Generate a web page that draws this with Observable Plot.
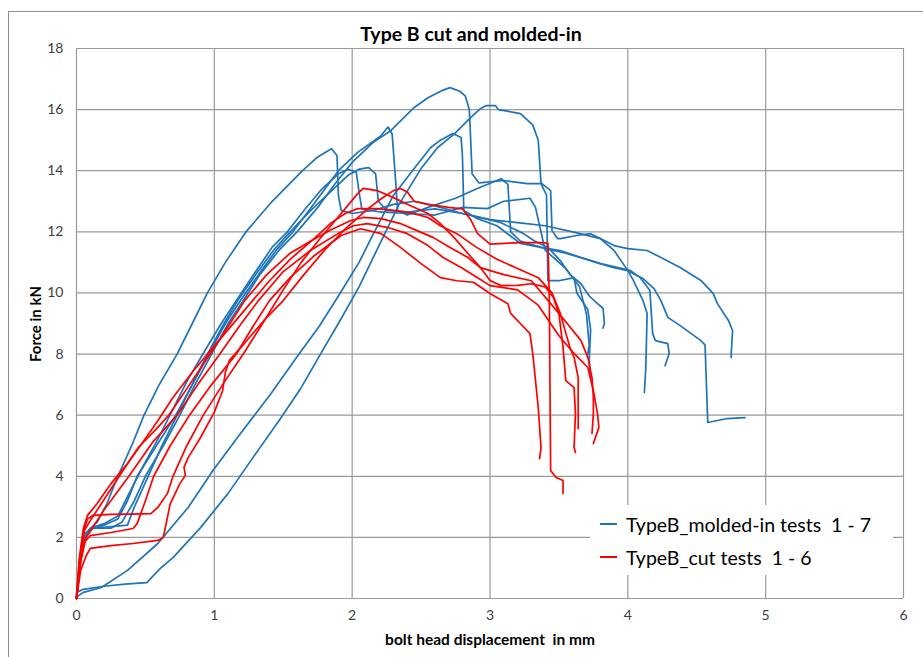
<!DOCTYPE html>
<html>
<head>
<meta charset="utf-8">
<script src="https://cdn.jsdelivr.net/npm/d3@7"></script>
<script src="https://cdn.jsdelivr.net/npm/@observablehq/plot@0.6"></script>
<style>
html,body{margin:0;padding:0;background:#fff;overflow:hidden}
#wrap{position:relative;width:923px;height:657px;font-family:Lato,"Open Sans",sans-serif;overflow:hidden}
#frame{position:absolute;left:8px;top:11px;width:1000px;height:1000px;border:1px solid #8c8c8c;box-sizing:border-box}
#chart{position:absolute;left:0;top:0}
#title{position:absolute;left:471px;top:22px;transform:translateX(-50%);font-size:19.5px;font-weight:bold;line-height:24px;color:#000;white-space:nowrap}
#xtitle{position:absolute;left:490px;top:630px;transform:translateX(-50%);font-size:15.5px;font-weight:bold;line-height:18px;color:#000;white-space:pre}
#ytitle{position:absolute;left:35px;top:324px;transform:translate(-50%,-50%) rotate(-90deg);font-size:15px;font-weight:bold;line-height:18px;color:#000;white-space:nowrap}
#legend{position:absolute;left:590px;top:505px;width:303px;height:70px;background:#fff}
.li{position:absolute;left:10px;height:24px;display:flex;align-items:center;font-size:19.5px;color:#000;white-space:pre}
.sw{display:inline-block;width:17px;height:2px;margin-right:9px}
</style>
</head>
<body>
<div id="wrap">
  <div id="frame"></div>
  <div id="chart"></div>
  <div id="title">Type B cut and molded-in</div>
  <div id="ytitle">Force in kN</div>
  <div id="xtitle">bolt head displacement  in mm</div>
  <div id="legend"></div>
</div>
<script>
const xTicks = [0, 1, 2, 3, 4, 5, 6];
const yTicks = [0, 2, 4, 6, 8, 10, 12, 14, 16, 18];
const seriesNames = ["TypeB_molded-in tests  1 - 7", "TypeB_cut tests  1 - 6"];
const seriesColors = ["#1f74b9", "#ff0000"];

// molded-in tests (displacement mm, force kN)
const molded1 = [[0,0],[0.02,0.9],[0.05,1.8],[0.09,2.25],[0.15,2.5],[0.22,3.1],[0.3,4.0],[0.4,5.0],[0.49,6.0],[0.6,7.0],[0.73,8.0],[0.84,9.0],[0.95,10.0],[1.08,11.0],[1.23,12.0],[1.42,13.0],[1.64,14.0],[1.75,14.45],[1.85,14.72],[1.89,14.5],[1.9,13.2],[1.92,12.7],[2.0,12.6],[2.15,12.7],[2.3,12.9],[2.45,13.0],[2.6,12.85],[2.8,12.6],[3.0,12.4],[3.2,12.3],[3.4,12.2],[3.6,12.0],[3.8,11.78],[3.9,11.39],[4.0,10.73],[4.04,10.41],[4.11,9.75],[4.14,9.33],[4.13,7.5],[4.12,6.74]];
const molded2 = [[0,0],[0.02,1.0],[0.05,1.9],[0.09,2.25],[0.2,2.4],[0.3,2.6],[0.37,3.2],[0.44,4.0],[0.58,5.0],[0.72,6.0],[0.84,7.0],[0.95,8.0],[1.07,9.0],[1.17,9.75],[1.3,10.6],[1.43,11.4],[1.55,12.0],[1.7,12.7],[1.84,13.3],[1.97,13.85],[2.05,14.05],[2.12,14.1],[2.17,13.9],[2.19,13.0],[2.25,12.7],[2.4,12.65],[2.6,12.75],[2.8,12.6],[2.95,12.45],[3.08,12.3],[3.17,12.1],[3.24,11.95],[3.32,11.71],[3.42,11.49],[3.51,11.06],[3.58,10.6],[3.66,10.3],[3.72,9.9],[3.78,9.65],[3.82,9.5],[3.83,9.0],[3.82,8.85]];
const molded3 = [[0,0],[0.03,1.3],[0.07,2.1],[0.12,2.3],[0.25,2.35],[0.37,2.4],[0.42,3.0],[0.52,4.0],[0.62,5.0],[0.73,6.0],[0.84,7.0],[0.96,8.0],[1.08,9.0],[1.19,9.75],[1.32,10.6],[1.45,11.4],[1.57,12.0],[1.72,12.9],[1.9,14.0],[2.04,14.6],[2.21,15.15],[2.26,15.43],[2.29,15.2],[2.31,14.0],[2.33,12.7],[2.4,12.55],[2.55,12.8],[2.75,13.1],[2.9,13.4],[3.08,13.74],[3.13,13.55],[3.15,12.0],[3.22,11.7],[3.4,11.45],[3.55,11.3],[3.7,11.1],[3.8,10.96],[3.9,10.83],[4.0,10.73],[4.04,10.63],[4.11,10.47],[4.19,10.14],[4.24,9.75],[4.29,9.2],[4.38,8.93],[4.53,8.44],[4.56,8.3],[4.58,5.76],[4.72,5.89],[4.85,5.92]];
const molded4 = [[0,0],[0.03,1.4],[0.07,2.15],[0.12,2.3],[0.25,2.3],[0.33,2.5],[0.42,3.2],[0.5,4.0],[0.63,5.0],[0.75,6.0],[0.86,7.0],[0.98,8.0],[1.1,9.0],[1.21,9.75],[1.33,10.6],[1.47,11.4],[1.6,12.0],[1.75,12.8],[1.88,13.6],[2.0,14.27],[2.15,14.92],[2.28,15.31],[2.45,16.07],[2.55,16.39],[2.65,16.62],[2.71,16.72],[2.78,16.6],[2.82,16.45],[2.85,16.0],[2.86,15.0],[2.87,13.9],[2.92,13.6],[3.1,13.68],[3.27,13.58],[3.37,13.58],[3.41,13.2],[3.42,10.4],[3.5,10.4],[3.61,10.5],[3.63,10.0],[3.71,9.45],[3.73,8.8],[3.72,7.8],[3.73,7.2]];
const molded5 = [[0,0],[0.0,0.05],[0.05,0.2],[0.18,0.36],[0.37,0.92],[0.59,1.8],[0.81,2.98],[0.99,4.19],[1.19,5.4],[1.41,6.7],[1.63,8.1],[1.76,8.9],[1.9,9.9],[2.05,11.0],[2.15,11.9],[2.3,13.2],[2.45,14.07],[2.57,14.76],[2.64,15.0],[2.73,15.22],[2.79,15.09],[2.8,14.5],[2.81,12.7],[2.9,12.45],[3.05,12.2],[3.22,11.62],[3.37,11.49],[3.51,11.39],[3.66,11.16],[3.8,10.96],[3.93,10.83],[4.02,10.73],[4.09,10.5],[4.16,10.08],[4.18,8.67],[4.2,8.44],[4.29,8.34],[4.3,8.02],[4.27,7.62]];
const molded6 = [[0,0],[0.0,0.2],[0.05,0.3],[0.2,0.4],[0.35,0.47],[0.51,0.52],[0.6,0.95],[0.7,1.34],[0.9,2.32],[1.1,3.44],[1.28,4.61],[1.48,5.89],[1.63,6.9],[1.77,8.0],[1.9,9.0],[2.05,10.2],[2.2,11.6],[2.34,12.9],[2.5,14.07],[2.62,14.76],[2.74,15.2],[2.85,15.7],[2.93,16.03],[2.97,16.13],[3.04,16.13],[3.06,16.0],[3.22,15.87],[3.31,15.5],[3.35,15.0],[3.37,13.6],[3.44,13.35],[3.45,12.04],[3.49,11.78],[3.51,11.78],[3.63,11.88],[3.73,11.94],[3.8,11.78],[3.9,11.55],[4.0,11.45],[4.14,11.39],[4.24,11.16],[4.38,10.83],[4.53,10.41],[4.62,9.98],[4.65,9.65],[4.73,9.1],[4.76,8.77],[4.75,8.02],[4.75,7.89]];
const molded7 = [[0,0],[0.02,1.1],[0.06,2.0],[0.1,2.3],[0.2,2.45],[0.3,2.7],[0.4,3.6],[0.48,4.3],[0.6,5.3],[0.7,6.2],[0.8,7.1],[0.93,8.1],[1.05,9.0],[1.16,9.75],[1.3,10.7],[1.42,11.5],[1.53,12.0],[1.65,12.7],[1.78,13.4],[1.9,13.9],[1.97,14.05],[2.03,13.95],[2.05,13.3],[2.07,12.75],[2.2,12.65],[2.4,12.6],[2.6,12.55],[2.8,12.8],[2.98,12.76],[3.1,13.0],[3.29,13.1],[3.33,12.8],[3.38,11.8],[3.4,11.4],[3.55,10.8],[3.65,10.2],[3.7,9.3],[3.72,8.3],[3.71,8.0]];

// cut tests
const cut1 = [[0,0],[0.02,1.3],[0.05,2.3],[0.08,2.72],[0.15,3.11],[0.25,3.76],[0.37,4.42],[0.49,5.17],[0.59,5.82],[0.7,6.58],[0.85,7.46],[0.99,8.21],[1.1,8.8],[1.25,9.6],[1.4,10.4],[1.55,11.1],[1.73,11.8],[1.85,12.3],[1.95,12.6],[2.04,12.76],[2.18,12.76],[2.3,12.7],[2.42,12.63],[2.55,12.47],[2.64,12.2],[2.76,11.94],[2.9,11.5],[3.05,11.1],[3.2,10.8],[3.35,10.5],[3.45,10.0],[3.51,9.33],[3.58,8.21],[3.61,7.89],[3.64,7.23],[3.64,6.05],[3.64,5.56]];
const cut2 = [[0,0],[0.03,1.4],[0.06,2.25],[0.1,2.55],[0.18,3.1],[0.31,4.0],[0.45,4.95],[0.57,5.5],[0.67,6.0],[0.82,7.0],[0.97,8.0],[1.1,8.9],[1.22,9.75],[1.38,10.6],[1.55,11.3],[1.7,11.7],[1.84,12.05],[1.99,12.37],[2.08,12.47],[2.21,12.43],[2.35,12.27],[2.47,12.04],[2.59,11.81],[2.71,11.49],[2.84,11.16],[2.93,10.83],[3.1,10.6],[3.3,10.4],[3.45,9.6],[3.56,9.0],[3.66,8.44],[3.71,7.89],[3.74,7.23],[3.75,6.58],[3.75,6.05],[3.74,5.4]];
const cut3 = [[0,0],[0.03,1.2],[0.07,2.0],[0.1,2.2],[0.2,2.9],[0.38,4.0],[0.55,5.1],[0.73,6.0],[0.88,7.0],[1.04,8.0],[1.18,8.9],[1.32,9.75],[1.5,10.7],[1.7,11.4],[1.9,11.95],[2.01,12.2],[2.11,12.27],[2.26,12.14],[2.4,11.94],[2.55,11.55],[2.66,11.16],[2.79,10.83],[2.91,10.5],[3.0,10.24],[3.2,10.1],[3.35,9.6],[3.5,8.6],[3.61,8.02],[3.71,7.56],[3.75,6.8],[3.78,6.05],[3.79,5.6],[3.75,5.07]];
const cut4 = [[0,0],[0.02,1.0],[0.05,1.8],[0.1,2.06],[0.25,2.16],[0.41,2.29],[0.44,2.45],[0.5,3.2],[0.56,4.0],[0.68,5.0],[0.82,6.0],[0.98,7.0],[1.16,8.0],[1.28,8.9],[1.4,9.75],[1.55,10.5],[1.72,11.2],[1.92,11.88],[2.06,12.1],[2.21,11.94],[2.35,11.49],[2.5,10.96],[2.64,10.5],[2.76,10.4],[2.88,10.35],[3.0,9.98],[3.13,9.65],[3.15,9.33],[3.22,9.0],[3.29,8.67],[3.31,8.02],[3.35,6.25],[3.37,4.94],[3.36,4.58]];
const cut5 = [[0,0],[0.02,1.2],[0.05,2.2],[0.08,2.6],[0.12,2.72],[0.25,2.75],[0.4,2.76],[0.54,2.78],[0.59,2.98],[0.66,3.44],[0.7,4.0],[0.8,5.0],[0.92,6.0],[1.06,7.0],[1.21,8.0],[1.35,9.0],[1.5,10.1],[1.63,11.0],[1.77,11.8],[1.92,12.6],[2.04,13.25],[2.08,13.42],[2.18,13.35],[2.3,13.12],[2.42,12.86],[2.55,12.6],[2.64,12.27],[2.74,11.81],[2.84,11.29],[2.93,10.83],[3.0,10.41],[3.08,10.24],[3.2,10.25],[3.3,10.3],[3.4,10.2],[3.46,9.85],[3.5,9.33],[3.53,8.21],[3.55,7.13],[3.61,6.9],[3.62,6.05],[3.61,4.94],[3.62,4.78]];
const cut6 = [[0,0],[0.02,0.6],[0.03,0.92],[0.07,1.4],[0.1,1.64],[0.25,1.73],[0.41,1.8],[0.59,1.9],[0.63,2.0],[0.68,3.1],[0.75,3.76],[0.79,4.03],[0.78,4.29],[0.81,4.61],[0.9,5.27],[1.0,6.1],[1.06,6.8],[1.08,7.4],[1.11,7.8],[1.19,8.2],[1.36,9.1],[1.5,9.75],[1.65,10.6],[1.8,11.4],[1.95,12.1],[2.1,12.7],[2.2,13.05],[2.3,13.35],[2.35,13.42],[2.4,13.3],[2.45,13.0],[2.55,12.9],[2.7,12.8],[2.8,12.75],[2.86,12.4],[2.91,11.94],[3.0,11.6],[3.22,11.65],[3.38,11.65],[3.42,11.62],[3.43,10.0],[3.44,4.19],[3.48,3.96],[3.53,3.86],[3.53,3.44]];

const moldedTests = [molded1, molded2, molded3, molded4, molded5, molded6, molded7];
const cutTests = [cut1, cut2, cut3, cut4, cut5, cut6];

const toRows = (tests, group) => tests.flatMap((pts, i) => pts.map(([x, y]) => ({x, y, test: group + (i + 1)})));
const moldedRows = toRows(moldedTests, "m");
const cutRows = toRows(cutTests, "c");

const chart = Plot.plot({
  width: 923,
  height: 657,
  marginLeft: 76,
  marginRight: 20,
  marginTop: 48,
  marginBottom: 59,
  style: {fontFamily: "Lato, 'Open Sans', sans-serif", fontSize: "14px", color: "#404040", background: "transparent"},
  x: {domain: [0, 6], label: null},
  y: {domain: [0, 18], label: null},
  marks: [
    Plot.gridX(xTicks, {stroke: "#9a9a9a", strokeOpacity: 1, strokeWidth: 1.2}),
    Plot.gridY(yTicks, {stroke: "#9a9a9a", strokeOpacity: 1, strokeWidth: 1.2}),
    Plot.axisX(xTicks, {tickSize: 0, tickPadding: 12, label: null, tickFormat: d => String(d)}),
    Plot.axisY(yTicks, {tickSize: 0, tickPadding: 13, label: null, tickFormat: d => String(d)}),
    Plot.line(moldedRows, {x: "x", y: "y", z: "test", stroke: seriesColors[0], strokeWidth: 1.7, curve: "linear"}),
    Plot.line(cutRows, {x: "x", y: "y", z: "test", stroke: seriesColors[1], strokeWidth: 1.7, curve: "linear"})
  ]
});
document.getElementById("chart").appendChild(chart);

const legend = document.getElementById("legend");
seriesNames.forEach((name, i) => {
  const row = document.createElement("div");
  row.className = "li";
  row.style.top = (7 + i * 33) + "px";
  const sw = document.createElement("span");
  sw.className = "sw";
  sw.style.background = seriesColors[i];
  row.appendChild(sw);
  row.appendChild(document.createTextNode(name));
  legend.appendChild(row);
});
</script>
</body>
</html>
